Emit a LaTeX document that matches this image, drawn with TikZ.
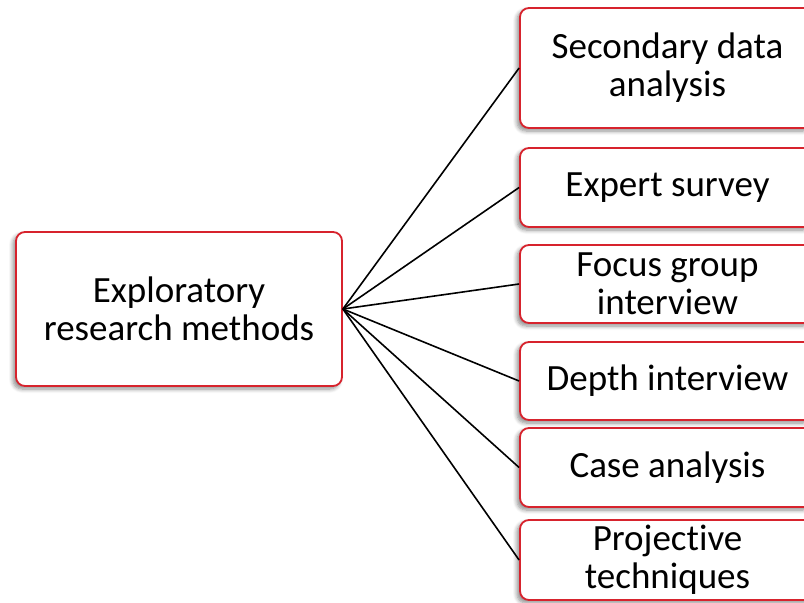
\documentclass[tikz,border=0pt]{standalone}
\usepackage{fontspec}
\setmainfont[Ligatures=NoCommon]{Carlito}
\usetikzlibrary{shadows.blur}
\definecolor{boxred}{RGB}{215,35,45}
\begin{document}
\begin{tikzpicture}[x=1pt,y=-1pt,
 box/.style={draw=boxred, line width=1.8pt, rounded corners=9pt, fill=white, align=center,
   font=\fontsize{37}{38}\selectfont, inner sep=0pt,
   blur shadow={shadow xshift=-3pt, shadow yshift=-3pt, shadow opacity=45, shadow blur steps=6, shadow blur radius=4pt}},
 rbox/.style={box, minimum width=295pt},
 link/.style={black, line width=1.6pt}]
\useasboundingbox (0,0) rectangle (804,603);
\clip (0,0) rectangle (804,603);
\node[box, minimum width=326pt, minimum height=154pt] (L) at (179,309) {Exploratory\\research methods};
\node[rbox, minimum height=120pt] (R1) at (667.5,68) {Secondary data\\analysis};
\node[rbox, minimum height=79pt] (R2) at (667.5,187.5) {Expert survey};
\node[rbox, minimum height=78pt] (R3) at (667.5,284) {Focus group\\interview};
\node[rbox, minimum height=78pt] (R4) at (667.5,381) {Depth interview};
\node[rbox, minimum height=79pt] (R5) at (667.5,467.5) {Case analysis};
\node[rbox, minimum height=80pt] (R6) at (667.5,560) {Projective\\techniques};
\foreach \r in {R1,R2,R3,R4,R5,R6}
  \draw[link] (L.east) -- (\r.west);
\end{tikzpicture}
\end{document}
